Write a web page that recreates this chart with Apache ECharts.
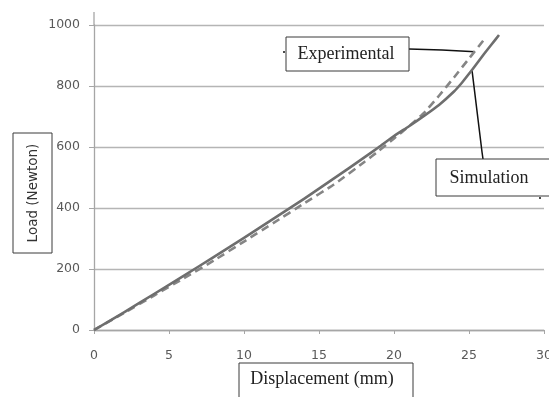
<!DOCTYPE html>
<html>
<head>
<meta charset="utf-8">
<style>
  html, body { margin: 0; padding: 0; background: #fff; }
  #chart { width: 549px; height: 397px; }
</style>
<script src="https://cdn.jsdelivr.net/npm/echarts@6/dist/echarts.min.js"></script>
</head>
<body>
<div id="chart"></div>
<script>
// displacement (mm) / load (N)
const simX = [0, 2, 4, 6, 8, 10, 12, 14, 16, 18, 19, 20, 21, 22, 23, 24, 24.5, 25, 25.5, 26, 26.5, 27]
const simY = [0, 58, 118, 178, 240, 302, 366, 430, 497, 565, 600, 636, 668, 702, 738, 782, 809, 840, 872, 905, 936, 967]
const expX = [0, 2, 4, 6, 8, 10, 12, 14, 16, 18, 19, 20, 21, 22, 23, 24, 25, 26]
const expY = [0, 56, 113, 170, 228, 290, 352, 415, 477, 550, 588, 628, 668, 712, 768, 828, 890, 952]
const xTicks = [0, 30, 5]
const yTicks = [0, 1000, 200]

const tickFont = 'DejaVu Sans'
const serif = 'Liberation Serif'
const axisGrey = '#a6a6a6'

const toPairs = (xs, ys) => xs.map((x, i) => [x, ys[i]])

const myChart = echarts.init(document.getElementById('chart'), null, { renderer: 'canvas' })

const options = {
  animation: false,
  grid: {
    left: 94,
    right: 5,
    top: 25,
    bottom: 67,
    containLabel: false,
    outerBoundsMode: 'none',
  },
  xAxis: {
    type: 'value',
    min: xTicks[0],
    max: xTicks[1],
    interval: xTicks[2],
    axisLine: { lineStyle: { color: axisGrey, width: 1.3 } },
    axisTick: { show: true, length: 4, lineStyle: { color: axisGrey } },
    axisLabel: { margin: 19, color: '#595959', fontSize: 12.5, fontFamily: tickFont },
    splitLine: { show: false },
  },
  yAxis: {
    type: 'value',
    min: yTicks[0],
    max: yTicks[1],
    interval: yTicks[2],
    axisLine: { show: true, lineStyle: { color: axisGrey, width: 1.3 } },
    axisTick: { show: true, length: 5, lineStyle: { color: axisGrey } },
    axisLabel: {
      margin: 14, color: '#595959', fontSize: 12.5, fontFamily: tickFont,
      formatter: (v) => String(v),
    },
    splitLine: { show: true, lineStyle: { color: '#b5b5b5', width: 1.3 } },
  },
  series: [
    {
      name: 'Simulation',
      type: 'line',
      data: toPairs(simX, simY),
      showSymbol: false,
      smooth: 0.12,
      lineStyle: { color: '#6e6e6e', width: 2.6, join: 'round' },
      z: 3,
    },
    {
      name: 'Experimental',
      type: 'line',
      data: toPairs(expX, expY),
      showSymbol: false,
      smooth: 0.12,
      lineStyle: { color: '#858585', width: 2.6, type: [8, 5], join: 'round' },
      z: 2,
    },
  ],
}

myChart.setOption(options)

// annotation boxes and leader lines
const expTip = myChart.convertToPixel({ gridIndex: 0 }, [25.4, 912])
const simTip = myChart.convertToPixel({ gridIndex: 0 }, [25.2, 852])
const boxStyle = { fill: '#fff', stroke: '#3a3a3a', lineWidth: 1 }
const leader = { stroke: '#111', lineWidth: 1.5 }

myChart.setOption({
  graphic: [
    // y axis line runs a little above the top gridline
    { type: 'line', shape: { x1: 94, y1: 12, x2: 94, y2: 25 }, style: { stroke: axisGrey, lineWidth: 1.3 } },
    // axis titles
    { type: 'rect', shape: { x: 13, y: 133, width: 39, height: 120 }, style: boxStyle },
    {
      type: 'text', x: 33, y: 193, rotation: Math.PI / 2,
      style: { text: 'Load (Newton)', font: '13.5px "DejaVu Sans"', fill: '#333', align: 'center', verticalAlign: 'middle' },
    },
    { type: 'rect', shape: { x: 239, y: 363, width: 174, height: 40 }, style: boxStyle },
    {
      type: 'text', x: 322, y: 379,
      style: { text: 'Displacement (mm)', font: '18px "' + serif + '"', fill: '#222', align: 'center', verticalAlign: 'middle' },
    },
    // series labels
    { type: 'polyline', shape: { points: [[409, 49], [442, 50], expTip] }, style: leader },
    { type: 'rect', shape: { x: 286, y: 37, width: 123, height: 34 }, style: boxStyle },
    {
      type: 'text', x: 346, y: 54,
      style: { text: 'Experimental', font: '18px "' + serif + '"', fill: '#222', align: 'center', verticalAlign: 'middle' },
    },
    { type: 'line', shape: { x1: 283, y1: 52, x2: 285, y2: 52 }, style: leader },
    { type: 'polyline', shape: { points: [[483, 159], [482, 152], simTip] }, style: leader },
    { type: 'rect', shape: { x: 436, y: 159, width: 120, height: 37 }, style: boxStyle },
    {
      type: 'text', x: 489, y: 178,
      style: { text: 'Simulation', font: '18px "' + serif + '"', fill: '#222', align: 'center', verticalAlign: 'middle' },
    },
    { type: 'line', shape: { x1: 539, y1: 198, x2: 541, y2: 198 }, style: leader },
  ],
})
</script>
</body>
</html>
